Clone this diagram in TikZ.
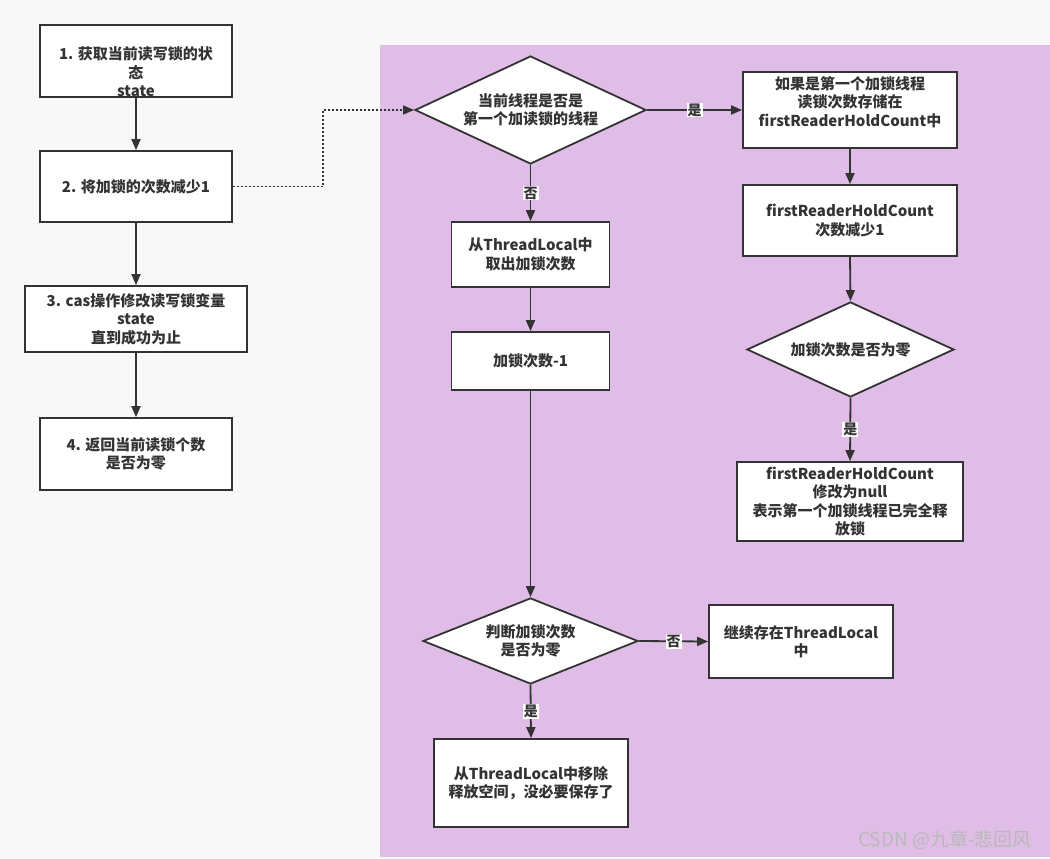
\documentclass[tikz,border=0pt]{standalone}
\usepackage{fontspec}
\setmainfont{Noto Sans CJK SC}
\usetikzlibrary{arrows.meta,shapes.geometric}
\definecolor{bgc}{HTML}{F8F8F8}
\definecolor{purp}{HTML}{E0BDE7}
\definecolor{ink}{HTML}{333333}
\newcommand\boxfont{\fontsize{15}{18.5}\selectfont\bfseries}
\newcommand\labfont{\fontsize{14}{16}\selectfont\bfseries}
\begin{document}
\begin{tikzpicture}[x=1pt,y=-1pt,
  box/.style={draw=ink, line width=1.8pt, fill=white, inner sep=0pt, text=ink, font=\boxfont, align=center},
  dia/.style={diamond, draw=ink, line width=1.8pt, fill=white, inner sep=0pt, text=ink, font=\boxfont, align=center},
  txt/.style={text=ink, font=\boxfont, align=center, inner sep=0pt},
  arr/.style={draw=ink, line width=1.8pt, -{Triangle[length=11pt,width=9pt]}},
  dots/.style={draw=ink, line width=1.6pt, dash pattern=on 2pt off 2pt, -{Triangle[length=11pt,width=9pt]}},
  lab/.style={fill=white, text=ink, font=\labfont, inner sep=1pt}
]
\useasboundingbox (0,0) rectangle (1050,859);
\fill[bgc] (0,0) rectangle (1050,859);
\fill[purp] (380,45) rectangle (1050,857);

% left column
\node[box, minimum width=192pt, minimum height=72pt] (b1) at (136,61) {};
\node[txt] (b1t) at ([yshift=-11pt]b1.center) {1. 获取当前读写锁的状\\态\\state};
\node[box, minimum width=192pt, minimum height=71pt] (b2) at (136,186.5) {2. 将加锁的次数减少1};
\node[box, minimum width=222pt, minimum height=66pt] (b3) at (136,319) {3. cas操作修改读写锁变量\\state\\直到成功为止};
\node[box, minimum width=192pt, minimum height=72pt] (b4) at (136,454) {4. 返回当前读锁个数\\是否为零};

% middle column
\node[dia, aspect=2.14, minimum width=231pt, minimum height=108pt] (d1) at (530.5,110) {当前线程是否是\\第一个加读锁的线程};
\node[box, minimum width=158pt, minimum height=65pt] (tl1) at (530.5,254.5) {从ThreadLocal中\\取出加锁次数};
\node[box, minimum width=158pt, minimum height=58pt] (m1) at (530.5,361) {加锁次数-1};
\node[dia, aspect=2.5, minimum width=215pt, minimum height=86pt] (d3) at (530.5,641) {判断加锁次数\\是否为零};
\node[box, minimum width=194pt, minimum height=88pt] (bot) at (531,783) {从ThreadLocal中移除\\释放空间，没必要保存了};
\node[box, minimum width=184pt, minimum height=73pt] (cont) at (801,641.5) {继续存在ThreadLocal\\中};

% right column
\node[box, minimum width=214pt, minimum height=76pt] (r1) at (850,110) {};
\node[txt] (r1t) at ([yshift=8pt]r1.center) {如果是第一个加锁线程\\读锁次数存储在\\firstReaderHoldCount中};
\node[box, minimum width=214pt, minimum height=71pt] (r2) at (850,220.5) {firstReaderHoldCount\\次数减少1};
\node[dia, aspect=2.18, minimum width=207pt, minimum height=95pt] (d2) at (850.5,349.5) {加锁次数是否为零};
\node[box, minimum width=226pt, minimum height=79pt] (nul) at (850,501.5) {firstReaderHoldCount\\修改为null\\表示第一个加锁线程已完全释\\放锁};

% connectors
\draw[arr] (b1) -- (b2);
\draw[arr] (b2) -- (b3);
\draw[arr] (b3) -- (b4);
\coordinate (k1) at (323,186.5);
\coordinate (k2) at (323,110);
\draw[dots] (b2.east) -- (k1) -- (k2) -- (d1.west);
\draw[arr] (d1.east) -- node[lab]{是} (r1.west);
\draw[arr] (d1.south) -- node[lab]{否} (tl1.north);
\draw[arr] (tl1) -- (m1);
\draw[arr] (m1.south) -- (d3.north);
\draw[arr] (d3.east) -- node[lab]{否} (cont.west);
\draw[arr] (d3.south) -- node[lab]{是} (bot.north);
\draw[arr] (r1) -- (r2);
\draw[arr] (r2.south) -- (d2.north);
\draw[arr] (d2.south) -- node[lab]{是} (nul.north);

\node[text=gray!55, font=\fontsize{19}{19}\selectfont, inner sep=0pt] (wm) at (945,840) {CSDN @九章-悲回风};
\end{tikzpicture}
\end{document}
